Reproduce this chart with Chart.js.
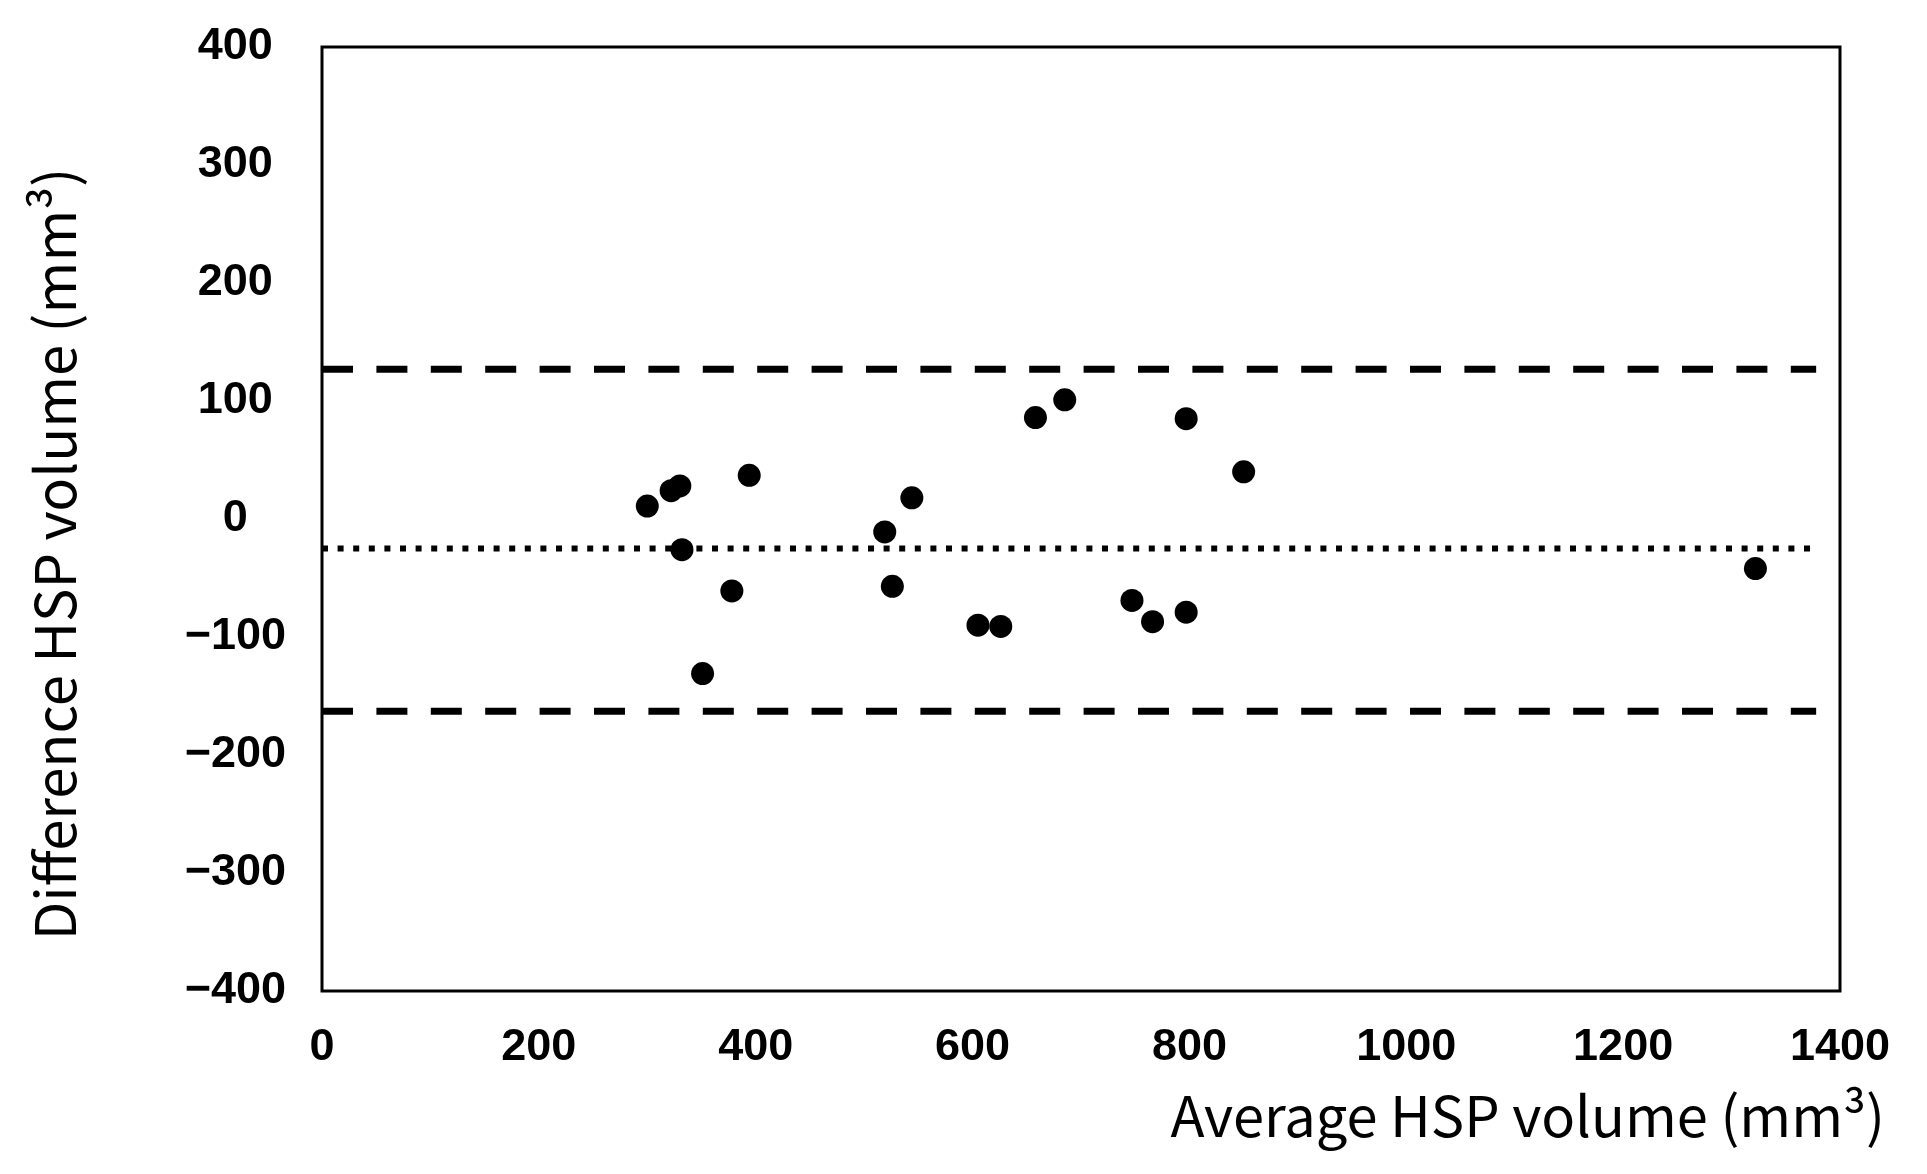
<!DOCTYPE html>
<html>
<head>
<meta charset="utf-8">
<script src="https://cdn.jsdelivr.net/npm/chart.js@4.4.1/dist/chart.umd.min.js"></script>
<style>
  html, body { margin: 0; padding: 0; background: #fff; }
  #wrap { width: 1927px; height: 1174px; }
</style>
</head>
<body>
<div id="wrap"><canvas id="blandAltman"></canvas></div>
<script>
// Bland-Altman data
const avgVolume = [300, 322, 330, 332, 394, 378, 351, 519, 544, 526, 605, 626, 658, 685, 797, 850, 747, 766, 797, 1322];
const diffVolume = [11, 24, 28, -26, 37, -61, -131, -11, 18, -57, -90, -91, 86, 101, 85, 40, -69, -87, -79, -42];

// reference lines (mean difference and limits of agreement)
const meanDiff = -25;
const upperLimit = 127;
const lowerLimit = -163;
const lineSpan = [0, 1378];

// axes
const xTicks = [0, 200, 400, 600, 800, 1000, 1200, 1400];
const yTicks = [-400, -300, -200, -100, 0, 100, 200, 300, 400];

const xTitle = 'Average HSP volume (mm\u00B3)';
const yTitle = 'Difference HSP volume (mm\u00B3)';

const tickFont = { family: '"Liberation Sans Narrow", "Liberation Sans", sans-serif', size: 45, weight: 'bold' };

function hLine(y) {
    return lineSpan.map(x => ({ x: x, y: y }));
}

// box around the plot area
const frame = {
    id: 'frame',
    beforeDatasetsDraw(chart) {
        const { ctx, chartArea: a } = chart;
        ctx.save();
        ctx.strokeStyle = '#000';
        ctx.lineWidth = 3;
        ctx.strokeRect(a.left, a.top, a.right - a.left, a.bottom - a.top);
        ctx.restore();
    }
};

// axis titles, placed like in the original figure
const axisTitles = {
    id: 'axisTitles',
    afterDraw(chart) {
        const { ctx, chartArea: a } = chart;
        ctx.save();
        ctx.fillStyle = '#000';
        ctx.font = '56px "Noto Sans CJK JP", "Noto Sans", sans-serif';
        ctx.textAlign = 'right';
        ctx.textBaseline = 'alphabetic';
        ctx.fillText(xTitle, a.right + 45, a.bottom + 146);

        ctx.translate(55, (a.top + a.bottom) / 2 + 35);
        ctx.rotate(-Math.PI / 2);
        ctx.textAlign = 'center';
        ctx.textBaseline = 'middle';
        ctx.fillText(yTitle, 0, 0);
        ctx.restore();
    }
};

const ctx = document.getElementById('blandAltman').getContext('2d');
new Chart(ctx, {
    type: 'scatter',
    data: {
        datasets: [
            {
                label: 'Difference',
                data: avgVolume.map((x, i) => ({ x: x, y: diffVolume[i] })),
                backgroundColor: '#000',
                borderWidth: 0,
                pointRadius: 11.5
            },
            {
                label: 'Mean',
                data: hLine(meanDiff),
                showLine: true,
                borderColor: '#000',
                borderWidth: 6,
                borderDash: [6, 9.6],
                pointRadius: 0
            },
            {
                label: 'Upper limit',
                data: hLine(upperLimit),
                showLine: true,
                borderColor: '#000',
                borderWidth: 7,
                borderDash: [31, 23.4],
                pointRadius: 0
            },
            {
                label: 'Lower limit',
                data: hLine(lowerLimit),
                showLine: true,
                borderColor: '#000',
                borderWidth: 7,
                borderDash: [31, 23.4],
                pointRadius: 0
            }
        ]
    },
    options: {
        responsive: true,
        maintainAspectRatio: false,
        animation: false,
        layout: { padding: { top: 47, right: 87, bottom: 0, left: 0 } },
        plugins: {
            legend: { display: false },
            tooltip: { enabled: false }
        },
        scales: {
            x: {
                min: 0,
                max: 1400,
                afterBuildTicks: axis => { axis.ticks = xTicks.map(v => ({ value: v })); },
                afterFit: axis => {
                    axis.height = 183;
                    axis.paddingLeft = 0;
                    axis.paddingRight = 0;
                },
                grid: { display: false, drawTicks: false },
                border: { display: false },
                ticks: { color: '#000', font: tickFont, padding: 30, maxRotation: 0, callback: v => String(v) }
            },
            y: {
                min: -400,
                max: 400,
                afterBuildTicks: axis => { axis.ticks = yTicks.map(v => ({ value: v })); },
                afterFit: axis => {
                    axis.width = 322;
                    axis.paddingTop = 0;
                    axis.paddingBottom = 0;
                },
                grid: { display: false, drawTicks: false },
                border: { display: false },
                ticks: {
                    color: '#000',
                    font: tickFont,
                    padding: 36,
                    crossAlign: 'center',
                    callback: v => (v < 0 ? '\u2212' + Math.abs(v) : String(v))
                }
            }
        }
    },
    plugins: [frame, axisTitles]
});
</script>
</body>
</html>
